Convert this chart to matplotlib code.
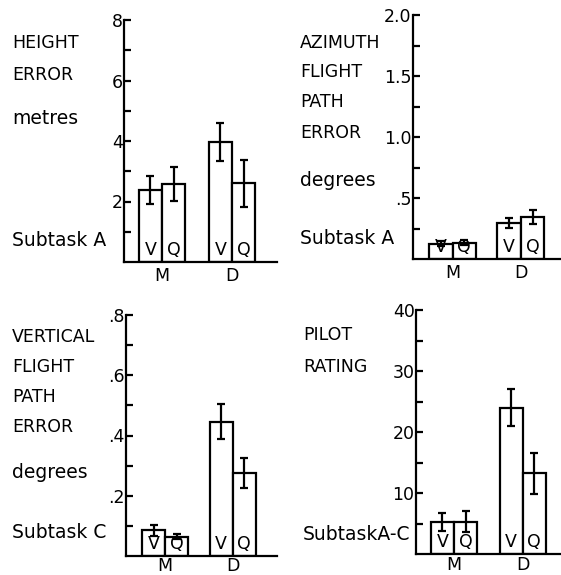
import matplotlib
matplotlib.use("Agg")
import matplotlib.pyplot as plt
from matplotlib.ticker import FixedLocator

plt.rcParams['font.family'] = ['DejaVu Sans']

groups = ["M", "D"]
bar_letters = ["V", "Q"]

# Panel A: height error (metres)
height_V = [2.38, 3.98]
height_V_err = [0.45, 0.63]
height_Q = [2.58, 2.60]
height_Q_err = [0.55, 0.77]

# Panel B: azimuth flight path error (degrees)
azim_V = [0.125, 0.295]
azim_V_err = [0.02, 0.04]
azim_Q = [0.135, 0.345]
azim_Q_err = [0.02, 0.06]

# Panel C: vertical flight path error (degrees)
vert_V = [0.086, 0.446]
vert_V_err = [0.018, 0.058]
vert_Q = [0.064, 0.275]
vert_Q_err = [0.008, 0.05]

# Panel D: pilot rating
pilot_V = [5.3, 24.0]
pilot_V_err = [1.5, 3.0]
pilot_Q = [5.3, 13.2]
pilot_Q_err = [1.7, 3.3]

panels = [
    dict(V=height_V, Ve=height_V_err, Q=height_Q, Qe=height_Q_err,
         ymax=8, major=[2, 4, 6, 8], majlab=["2", "4", "6", "8"], minor=[1, 3, 5, 7],
         labels=[("HEIGHT", 43), ("ERROR", 75), ("metres", 118), ("Subtask A", 240)],
         pos=(124, 20, 277, 262), xlim=(-0.543, 1.643), textx=12, width=0.33, xpad=3.5),
    dict(V=azim_V, Ve=azim_V_err, Q=azim_Q, Qe=azim_Q_err,
         ymax=2.0, major=[0.5, 1.0, 1.5, 2.0], majlab=[".5", "1.0", "1.5", "2.0"],
         minor=[0.25, 0.75, 1.25, 1.75],
         labels=[("AZIMUTH", 43), ("FLIGHT", 72), ("PATH", 102), ("ERROR", 133),
                 ("degrees", 180), ("Subtask A", 238)],
         pos=(413, 15, 561, 259), xlim=(-0.58, 1.59), textx=300, width=0.345, xpad=3.5),
    dict(V=vert_V, Ve=vert_V_err, Q=vert_Q, Qe=vert_Q_err,
         ymax=0.8, major=[0.2, 0.4, 0.6, 0.8], majlab=[".2", ".4", ".6", ".8"],
         minor=[0.1, 0.3, 0.5, 0.7],
         labels=[("VERTICAL", 337), ("FLIGHT", 367), ("PATH", 397), ("ERROR", 427),
                 ("degrees", 472), ("Subtask C", 533)],
         pos=(126, 315, 277, 556), xlim=(-0.583, 1.657), textx=12, width=0.34, xpad=0.5),
    dict(V=pilot_V, Ve=pilot_V_err, Q=pilot_Q, Qe=pilot_Q_err,
         ymax=40, major=[10, 20, 30, 40], majlab=["10", "20", "30", "40"],
         minor=[5, 15, 25, 35],
         labels=[("PILOT", 335), ("RATING", 367), ("SubtaskA-C", 535)],
         pos=(416, 310, 561, 554), xlim=(-0.553, 1.557), textx=303, width=0.335, xpad=1.5),
]

W, H = 561, 575
fig = plt.figure(figsize=(W / 100, H / 100), dpi=100)
lw = 1.6
fs = 12.5
fs_lower = 13.5

for p in panels:
    x0, y0, x1, y1 = p["pos"]
    ax = fig.add_axes([x0 / W, 1 - y1 / H, (x1 - x0) / W, (y1 - y0) / H])
    ax.set_xlim(*p["xlim"])
    ax.set_ylim(0, p["ymax"])
    w = p["width"]
    xs = list(range(len(groups)))
    xv = [x - w / 2 for x in xs]
    xq = [x + w / 2 for x in xs]
    ax.bar(xv, p["V"], width=w, color="white", edgecolor="black", linewidth=lw, zorder=2)
    ax.bar(xq, p["Q"], width=w, color="white", edgecolor="black", linewidth=lw, zorder=2)
    ax.errorbar(xv, p["V"], yerr=p["Ve"], fmt="none", ecolor="black",
                elinewidth=lw, capsize=2.6, capthick=lw, zorder=3)
    ax.errorbar(xq, p["Q"], yerr=p["Qe"], fmt="none", ecolor="black",
                elinewidth=lw, capsize=2.6, capthick=lw, zorder=3)
    for xi in range(len(groups)):
        ax.text(xv[xi], p["ymax"] * 0.012, bar_letters[0], ha="center", va="bottom",
                fontsize=fs, zorder=4)
        ax.text(xq[xi], p["ymax"] * 0.012, bar_letters[1], ha="center", va="bottom",
                fontsize=fs, zorder=4)
    ax.set_xticks(xs)
    ax.set_xticklabels(groups, fontsize=fs)
    ax.tick_params(axis="x", length=0, pad=p["xpad"])
    ax.yaxis.set_major_locator(FixedLocator(p["major"]))
    ax.set_yticklabels(p["majlab"], fontsize=fs)
    ax.yaxis.set_minor_locator(FixedLocator(p["minor"]))
    ax.tick_params(axis="y", which="both", direction="in", length=5, width=lw, pad=1)
    for s in ["top", "right"]:
        ax.spines[s].set_visible(False)
    for s in ["left", "bottom"]:
        ax.spines[s].set_linewidth(lw)
    ax.patch.set_alpha(0)
    for txt, yy in p["labels"]:
        size = fs if txt.isupper() else fs_lower
        fig.text(p["textx"] / W, 1 - yy / H, txt, ha="left", va="center", fontsize=size)

fig.savefig("out.png", dpi=100)
